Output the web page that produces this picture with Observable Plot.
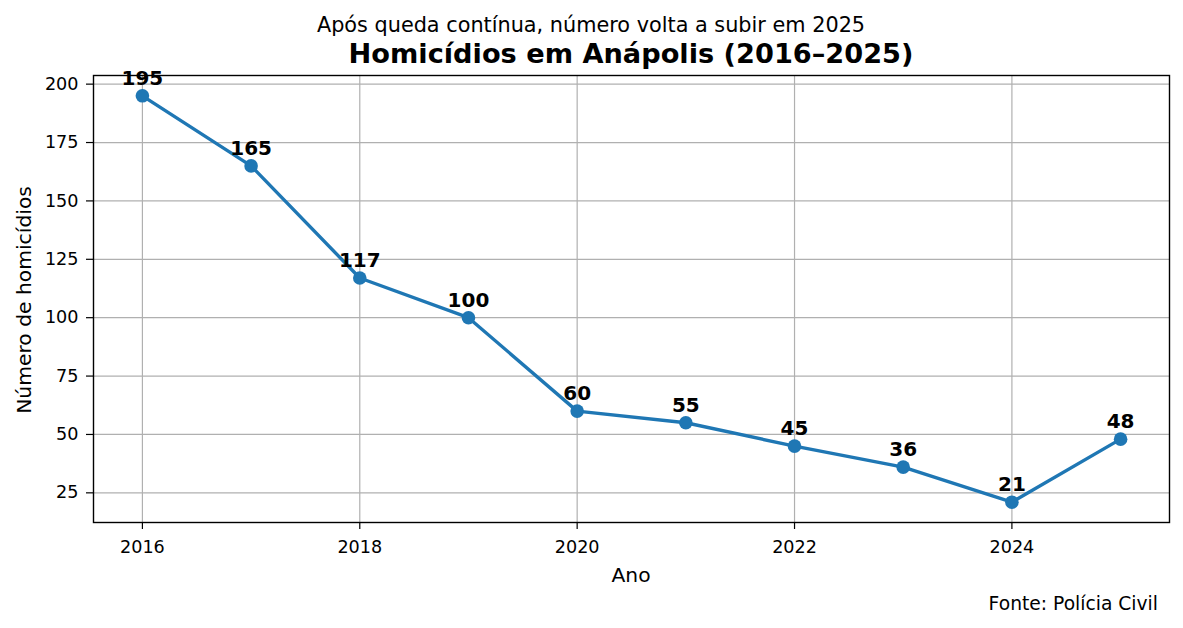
<!DOCTYPE html>
<html><head><meta charset="utf-8">
<script src="https://cdn.jsdelivr.net/npm/d3@7"></script>
<script src="https://cdn.jsdelivr.net/npm/@observablehq/plot@0.6"></script>
<style>
body{margin:0;background:#fff;font-family:"DejaVu Sans",sans-serif;}
#wrap{position:relative;width:1183px;height:628px;overflow:hidden;}
.t{position:absolute;white-space:nowrap;color:#000;line-height:normal;}
</style></head><body>
<div id="wrap"></div>
<script>
const years = [2016, 2017, 2018, 2019, 2020, 2021, 2022, 2023, 2024, 2025];
const homicides = [195, 165, 117, 100, 60, 55, 45, 36, 21, 48];
const xTicks = [2016, 2018, 2020, 2022, 2024];
const yTicks = [25, 50, 75, 100, 125, 150, 175, 200];
const subtitle = "Após queda contínua, número volta a subir em 2025";
const title = "Homicídios em Anápolis (2016–2025)";
const xLabel = "Ano";
const yLabel = "Número de homicídios";
const caption = "Fonte: Polícia Civil";

const data = years.map((y, i) => ({year: y, value: homicides[i]}));
const blue = "#1f77b4";

const chart = Plot.plot({
  width: 1183, height: 628,
  marginTop: 75, marginBottom: 106, marginLeft: 93, marginRight: 14,
  style: {fontFamily: "DejaVu Sans, sans-serif", fontSize: "17.6px", color: "#000", background: "#fff"},
  x: {domain: [2016 - 0.45, 2025 + 0.45], ticks: xTicks, tickFormat: d => String(d), label: null},
  y: {domain: [12.3, 203.7], ticks: yTicks, label: null},
  marks: [
    Plot.gridX(xTicks, {stroke: "#b0b0b0", strokeOpacity: 1, strokeWidth: 1.2}),
    Plot.gridY(yTicks, {stroke: "#b0b0b0", strokeOpacity: 1, strokeWidth: 1.2}),
    Plot.axisX({ticks: xTicks, tickSize: 7, tickPadding: 11, tickFormat: d => String(d), fontSize: 17.6, stroke: "#000", strokeWidth: 1.2, label: null}),
    Plot.axisY({ticks: yTicks, tickSize: 7, tickPadding: 8, fontSize: 17.6, stroke: "#000", strokeWidth: 1.2, label: null}),
    Plot.frame({stroke: "#000", strokeWidth: 1.4}),
    Plot.line(data, {x: "year", y: "value", stroke: blue, strokeWidth: 3.4}),
    Plot.dot(data, {x: "year", y: "value", fill: blue, r: 6.8, stroke: "none"}),
    Plot.text(data, {x: "year", y: "value", text: d => String(d.value), dy: -11, lineAnchor: "bottom", fontWeight: "bold", fontSize: 20, fill: "#000"})
  ]
});

const wrap = document.getElementById("wrap");
wrap.appendChild(chart);
function addText(txt, css) {
  const d = document.createElement("div");
  d.className = "t";
  d.textContent = txt;
  Object.assign(d.style, css);
  wrap.appendChild(d);
}
addText(subtitle, {left: "591px", top: "12.5px", transform: "translateX(-50%)", fontSize: "20.8px"});
addText(title, {left: "631px", top: "37.5px", transform: "translateX(-50%)", fontSize: "27.2px", fontWeight: "bold"});
addText(xLabel, {left: "631px", top: "562.5px", transform: "translateX(-50%)", fontSize: "20.3px"});
addText(yLabel, {left: "24px", top: "300px", transform: "translate(-50%,-50%) rotate(-90deg)", fontSize: "20.3px"});
addText(caption, {left: "1158px", top: "592.5px", transform: "translateX(-100%)", fontSize: "18.7px"});
</script>
</body></html>
